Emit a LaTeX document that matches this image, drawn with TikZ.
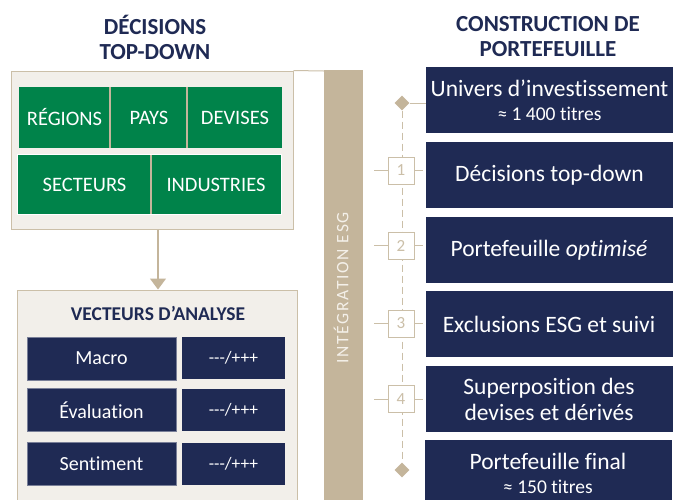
\documentclass[tikz,border=0pt]{standalone}
\usepackage{fontspec}
\setmainfont{Carlito}[Ligatures={NoCommon}]
\newfontfamily\spacedfont[LetterSpace=10]{Carlito}
\usetikzlibrary{arrows.meta,shapes.geometric}
\definecolor{navy}{HTML}{1F2A54}
\definecolor{sgreen}{HTML}{00834A}
\definecolor{beige}{HTML}{C4B59B}
\definecolor{lbeige}{HTML}{CBBFA8}
\definecolor{boxfill}{HTML}{F2EFEA}
\definecolor{barText}{HTML}{F4F0E9}
\tikzset{
  title/.style={text=navy,font=\fontsize{23}{25}\selectfont\bfseries,align=center,inner sep=0pt},
  panel/.style={fill=boxfill,draw=lbeige,line width=1pt},
  gcell/.style={fill=sgreen,text=white,font=\fontsize{20.5}{24}\selectfont,inner sep=0pt,minimum height=61pt},
  gcelltwo/.style={fill=sgreen,text=white,font=\fontsize{20.5}{24}\selectfont,inner sep=0pt,minimum height=59pt},
  vlabel/.style={fill=navy,draw=navy!60!white,line width=0.6pt,text=white,font=\fontsize{20}{24}\selectfont,inner sep=0pt,minimum width=149pt,minimum height=43pt},
  vvalue/.style={fill=navy,text=white,font=\fontsize{17.5}{20}\selectfont,inner sep=0pt,minimum width=103pt,minimum height=42pt},
  stepbox/.style={fill=navy,text=white,font=\fontsize{23.5}{26}\selectfont,align=center,inner sep=0pt,minimum width=247pt,minimum height=66pt},
  numbox/.style={draw=lbeige,line width=1pt,fill=white,text=lbeige,font=\fontsize{17}{20}\selectfont,inner sep=0pt,minimum width=26pt,minimum height=27pt},
  tick/.style={draw=lbeige,line width=1pt},
  dia/.style={diamond,fill=beige,inner sep=0pt,minimum width=15pt,minimum height=15pt},
  divider/.style={draw=beige,line width=1.5pt}
}
\begin{document}
\begin{tikzpicture}[x=1pt,y=-1pt]
\useasboundingbox (0,0) rectangle (688,499);
\clip (0,0) rectangle (688,499);
\fill[white] (0,0) rectangle (688,499);

% titles
\node[title] (tl) at (155,37) {DÉCISIONS\\TOP-DOWN};
\node[title] (tr) at (548,37) {CONSTRUCTION DE\\PORTEFEUILLE};

% ESG bar
\fill[beige] (324,70) rectangle (363,510);
\node[rotate=90,text=barText,font=\fontsize{17.5}{20}\spacedfont,inner sep=0pt] (esg) at (341,288) {INTÉGRATION ESG};

% top-down panel
\node[panel,minimum width=282pt,minimum height=158pt,inner sep=0pt] (tp) at (152,150) {};
\coordinate (barjoin) at (324,71);
\draw[tick] (tp.north east) -- (barjoin);

\node[gcell,minimum width=91pt] (reg) at (64.5,117.5) {RÉGIONS};
\node[gcell,minimum width=76pt] (pays) at (149,117.5) {PAYS};
\node[gcell,minimum width=94pt] (dev) at (235,117.5) {DEVISES};
\draw[divider] (reg.north east) -- (reg.south east);
\draw[divider] (pays.north east) -- (pays.south east);

\draw[white,line width=1.2pt] (18,155) rectangle (281,214);
\node[gcelltwo,minimum width=133pt] (sec) at (84.5,184.5) {SECTEURS};
\node[gcelltwo,minimum width=130pt] (ind) at (216,184.5) {INDUSTRIES};
\draw[divider] (sec.north east) -- (sec.south east);

% analysis panel
\node[panel,minimum width=280pt,minimum height=230pt,inner sep=0pt] (ap) at (157,405) {};
\draw[beige,line width=1.2pt,-{Triangle[width=16pt,length=11pt]}] (tp.south -| 158,0) -- (ap.north -| 158,0);

\node[text=navy,font=\fontsize{19.5}{22}\selectfont\bfseries,inner sep=0pt] (vt) at (158,313) {VECTEURS D’ANALYSE};
\node[vlabel] (m1) at (101.5,358.5) {Macro};
\node[vvalue] (v1) at (233.5,358) {-{}-{}-/+++};
\node[vlabel] (m2) at (101.5,410) {Évaluation};
\node[vvalue] (v2) at (233.5,410) {-{}-{}-/+++};
\node[vlabel] (m3) at (101.5,463.5) {Sentiment};
\node[vvalue] (v3) at (233.5,463.5) {-{}-{}-/+++};

% construction steps
\node[stepbox] (s0) at (549.5,100) {Univers d’investissement\\[-2pt]{\fontsize{19.5}{22}\selectfont ≈ 1 400 titres}};
\node[stepbox] (s1) at (549.5,175) {Décisions top-down};
\node[stepbox] (s2) at (549,250) {Portefeuille \textit{optimisé}};
\node[stepbox] (s3) at (549,324) {Exclusions ESG et suivi};
\node[stepbox] (s4) at (549,399) {Superposition des\\devises et dérivés};
\node[stepbox] (s5) at (548,473) {Portefeuille final\\[-2pt]{\fontsize{19.5}{22}\selectfont ≈ 150 titres}};

% timeline
\node[dia] (dtop) at (402,103) {};
\node[dia] (dbot) at (402,470) {};
\draw[lbeige,line width=1pt,dash pattern=on 7pt off 4pt] (dtop) -- (dbot);
\draw[tick] (dtop.east) -- (dtop.east -| s0.west);

\foreach \n/\y/\s in {1/170.5/s1,2/245.5/s2,3/323.5/s3,4/399/s4}{
  \node[numbox] (n\n) at (401,\y) {\n};
  \coordinate (l\n) at (374,\y);
  \draw[tick] (l\n) -- (n\n.west);
  \draw[tick] (n\n.east) -- (n\n.east -| 423,0);
}
\end{tikzpicture}
\end{document}
